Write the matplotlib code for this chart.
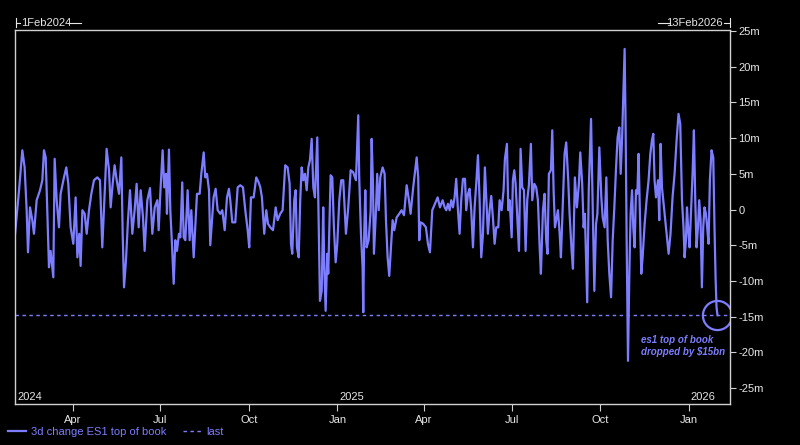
import numpy as np
import pandas as pd
import matplotlib
matplotlib.use("Agg")
import matplotlib.pyplot as plt
import matplotlib.dates as mdates
from matplotlib.lines import Line2D
from matplotlib.transforms import blended_transform_factory

# 3d change in ES1 top of book (millions)
start = "2024-02-01"
end = "2026-02-13"
# days since 1 Feb 2024
day = [
    0, 4.2, 7.6, 10, 12.1, 13.5, 15.6, 18, 19.7, 22.5, 26, 28.4, 30.1, 31.9, 33.6,
    35.3, 37, 39.8, 41.2, 43.3, 45.7, 47.4, 50.9, 53.3, 55.4, 57.8, 60.6, 63, 64.8,
    66.8, 68.2, 70, 72.4, 74.5, 76.9, 79.3, 82.1, 85.5, 88.3, 90.7, 93.2, 95.2, 97.7,
    99.4, 101.5, 103.5, 105.7, 108.1, 110.5, 111.9, 113.3, 115.3, 117.4, 119.5, 121.9,
    124.3, 126.4, 128.5, 130.6, 133, 134.7, 137.5, 140.3, 142.7, 145.2, 147.9,
    149.3, 151, 153.4, 155.1, 156.9, 157.9, 160, 161.4, 163.1, 164.9, 166.6, 168.3,
    170.4, 171.8, 173.8, 175.3, 177, 179.4, 181.5, 183.2, 185.7, 187.3, 189.1, 191.9,
    193.6, 196.1, 197.7, 199.5, 201.6, 202.9, 204.7, 206.4, 208.5, 210.6, 213.3, 215.4,
    217.9, 220.3, 222.3, 223.7, 225.8, 228.9, 231.4, 234.1, 236.9, 239.3, 241.8, 243.4,
    245.2, 248, 250.7, 253.2, 254.9, 256.6, 259, 261.1, 262.9, 265.3, 268.1, 270.9,
    272.9, 275.6, 278.1, 280.8, 283.3, 285.4, 286.8, 288.1, 290.2, 291.6, 293, 294.8,
    296.4, 297.9,
    299.6, 301.3, 303.1, 304.8, 306.5, 308.3, 310, 311.7, 314.1, 315.5, 316.9, 318.7,
    320.3, 321.4, 322.8, 324.5, 325.5, 328, 329.7, 331.4, 333.2, 334.9, 337, 339, 341.1,
    343.9, 346.3, 348.8, 351.5, 354.3, 356.7, 357.7, 359.5, 361.2, 361.9, 362.9, 364,
    365.4, 367.5, 369.6, 370.6, 372, 373, 374.8, 376.4, 377.9, 379.6, 382, 384.1, 385.5,
    387.2, 388.9, 390.7, 392.4, 394.1, 396.6, 399.3, 401.7, 404.2, 407, 409.4, 411.1,
    413.8, 417.4, 419, 420.1, 421.5, 424.2, 427, 429.1, 431.2, 433.6, 436.4, 439.2,
    441.6, 444.4, 446.5,
    448.2, 449.9, 451.7, 453.3, 455.1, 456.8, 458.5, 460.3, 462, 463.7, 465.5, 467.6,
    468.9, 470.7, 472.4, 474.1, 475.9, 477.6, 479.3, 481.1, 482.8, 484.5, 486.3, 488.3,
    489.7, 491.4, 493.2, 494.9, 496.6, 498.4, 500.1, 502.2, 503.6, 505.7, 507.7, 509.1,
    511.2, 512.6, 514, 516.1, 517.4, 518.8, 520.2, 521.6, 523.7, 525.4, 527.1, 528.9,
    530.6, 532.3, 534, 536.1, 537.5, 539.6, 541.6, 543.4, 545.2, 546.5, 548.6, 550.3,
    552, 553.4, 554.8, 556.9, 558.3, 559.7, 561.1, 562.4, 564.2, 566, 567.3, 569.4,
    571.1, 572.8, 574.9, 576.3, 578.4, 579.8, 581.8, 583.9, 586, 587.4, 589.4, 590.9,
    592.2, 593.6, 594.6,
    596.2, 598.6, 600.3, 602, 603.8, 605.2, 607.2, 609.3, 610.7, 612.7, 614.5, 615.9,
    617.6, 619.4, 621.1, 622.8, 624.6, 626.2, 628, 629.4, 630.8, 631.8, 633.5, 634.5,
    635.6, 637, 638.4, 639.7, 641.2, 642.5, 643.9, 645.3, 646.7, 648, 649.5, 650.8,
    652.2, 654.3, 656.3, 658.4, 660.2, 661.9, 663.3, 664.6, 666.1, 668.2, 669.5, 670.9,
    672.3, 674.4, 676.5, 679.2, 681.2, 683.3, 685.4, 687.5, 689.5, 691.3, 693.1, 694.7,
    695.8, 697.2, 698.3, 699.6, 701, 702.7, 704.1, 705.5, 706.9, 708.2, 709.7, 711,
    712.4, 713.8, 715.2, 716.5, 718, 719.3, 720.7, 722.1, 723.8, 725.6, 726.9, 728,
    729, 730,
]
value_m = [
    -3.5, 2.7, 8.3, 5.9, -0.1, -6.0, 0.3, -1.5, -3.4, 1.3, 2.7, 4.1, 8.3, 7.3, -0.6,
    -8.1, -5.8, -9.5, 7.1, 1.3, -2.5, 2.2, 4.5, 5.9, 3.6, -2.5, -4.8, 1.7, -6.7,
    -3.4, -7.9, -0.1, -0.6, -3.4, -0.1, 2.2, 4.1, 4.5, 4.1, -5.3, 2.2, 8.5, 5.5,
    0.3, 3.6, 6.2, 4.1, 2.2, 7.3, -3.4, -10.9, -7.2, -1.5, 2.7, -3.4,
    -0.1, 3.6, -2.5, 2.7, -1.1, -5.8, 1.3, 3.0, -3.4, 0.3, 1.3,
    -2.9, 2.2, 8.3, 3.1, 5.0, -0.6, 8.4, -0.1, -4.8, -10.4, -4.3, -5.8,
    -3.4, -3.9, 3.8, -3.9, -4.3, 2.7, -4.3, -0.1, -6.7, -2.5, 2.2, 2.2,
    5.0, 8.0, 4.5, 5.0, 2.7, -5.0, -1.5, 1.7, 2.9, -0.1, -0.6, -0.1,
    -2.9, 1.7, 2.9, 1.3, -1.8, -1.8, 3.1, 3.4, 3.1, -0.1, -2.9, -5.3,
    1.7, 1.7, 4.5, 3.8, 3.1, 1.7, -3.4, -0.1, -2.0, -2.5, -2.9, 0.3,
    -1.5, -0.6, -0.1, 6.2, 5.9, 3.6, -4.8, -6.2, 1.3, 2.7, -5.3, -6.7,
    1.3, 5.9,
    4.1, 5.0, 2.7, 5.9, 6.9, 9.9, 3.1, 1.7, 10.1, -1.1, -12.8, -11.4,
    0.3, -8.1, -14.2, -6.2, -9.0, 4.8, 4.5, -2.5, -7.4, -4.8, 1.3, 4.1, 4.1,
    -3.4, 0.3, 5.5, 5.2, 4.1, 13.2, 4.5, -3.4, -8.1, -14.4, -3.4, 2.7,
    -5.3, -4.3, -0.1, 9.9, 3.6, -6.2, -1.1, 5.0, -0.1, 4.5, 5.9, 5.0, -1.5,
    -6.7, -9.3, -5.3, -1.5, -2.9, -1.1, -0.6, -0.1, -0.8, 3.4, 1.3, -0.6,
    3.1, 7.3, 4.5, -4.3, -1.8, -2.0, -2.5, -4.8, -6.0, -0.1, 0.8, 1.7,
    0.3, 1.3, 0.3,
    -0.1, 0.8, -0.1, 1.3, 0.3, 1.7, 4.3, -0.1, -3.4, 1.3, 4.3, 4.3,
    -0.1, 2.2, 2.9, -0.1, -5.3, 0.3, 3.6, 7.6, 1.3, -6.7, -3.4, 5.9,
    1.7, -3.4, -0.1, 1.9, -1.1, -4.8, -2.5, -2.5, 1.3, -0.1, 2.7, 7.1,
    9.2, -0.1, 1.3, -3.9, 4.1, 5.5, 3.6, -0.1, -5.8, 8.5, 3.1, 2.7,
    -5.8, 1.3, 3.4, 9.2, 1.3, 3.6, 3.1, 1.3, -5.3, -9.0, -0.1, 2.2,
    -4.3, -6.2, 5.0, 5.5, 11.1, 2.7, -2.5, -1.5, -0.1, -3.4, -6.7, 1.3,
    7.8, 9.4, 4.1, -0.6, -5.8, -8.3, 4.5, 0.3, 3.6, 8.0, 3.6, -2.5,
    -0.6, -7.9, -13.0,
    2.7, 12.7, 0.3, -11.4, -2.0, -0.6, 8.7, 1.7, -1.1, -2.5, 4.5, -4.3,
    -9.0, -12.3, -4.3, 0.3, 5.9, 10.1, 11.5, 5.0, 9.7, 14.3, 22.5, 12.0,
    -4.3, -21.2, -9.0, -0.6, 2.7, -2.5, -5.3, 2.7, 2.2, 7.8, -1.5, -9.0,
    -6.7, -2.0, 1.3, 4.1, 7.8, 9.7, 10.6, 4.1, 1.7, 4.1, -1.5, 9.2,
    3.1, 0.3, -2.5, -6.2, -3.4, 1.7, 5.0, 9.7, 13.4, 12.0, 1.3, -2.5,
    -6.7, -4.3, 0.3, -2.9, -5.3, 0.3, 5.0, 11.1, 1.3, -5.3, -2.5, 1.3,
    -1.5, -10.9, -2.5, 0.3, -0.6, -2.5, -4.8, 4.1, 8.3, 7.3, -2.5, -9.5,
    -13.7, -14.8,
]
y_ticks = [-25, -20, -15, -10, -5, 0, 5, 10, 15, 20, 25]
year_starts = ["2024-02-01", "2025-01-01", "2026-01-01"]
year_labels = ["2024", "2025", "2026"]
series_label = "3d change ES1 top of book"
last_label = "last"
note = "es1 top of book\ndropped by \\$15bn"

assert len(day) == len(value_m)

LINE = "#7D7DFF"
FRAME = "#D0D0D0"
TXT = "#E6E6E6"
plt.rcParams["font.family"] = ["Liberation Sans", "DejaVu Sans"]

dates = pd.Timestamp(start) + pd.to_timedelta(day, unit="D")
last = value_m[-1]

fig = plt.figure(figsize=(8, 4.45), dpi=100, facecolor="black")
ax = fig.add_axes([15 / 800, 1 - 404 / 445, 715 / 800, 374 / 445], facecolor="black")

ax.plot(dates, value_m, color=LINE, lw=1.6, solid_joinstyle="round", label=series_label)
ax.axhline(last, color=LINE, lw=1.0, ls=(0, (2.5, 2.5)), label=last_label)
ax.plot(dates[-1], last, "o", ms=21, mfc="none", mec=LINE, mew=1.6, label="_nolegend_")
ax.annotate(note, xy=(dates[-1], last), xytext=(-55, -14), textcoords="offset points",
            ha="left", va="top", color=LINE, fontsize=7, fontweight="bold",
            fontstyle="italic", linespacing=1.3)

ax.set_xlim(pd.Timestamp(start), pd.Timestamp(end))
ax.set_ylim(-27.25, 25.15)

for s in ax.spines.values():
    s.set_color(FRAME)
    s.set_linewidth(1.0)

ax.yaxis.tick_right()
ax.set_yticks(y_ticks)
ax.set_yticklabels([("%dm" % v) if v != 0 else "0" for v in y_ticks])
ax.tick_params(axis="y", direction="out", length=4, width=0.8, color=FRAME,
               labelcolor=TXT, labelsize=8, pad=2)

ax.xaxis.set_major_locator(mdates.MonthLocator(bymonth=[1, 4, 7, 10]))
ax.xaxis.set_major_formatter(mdates.DateFormatter("%b"))
ax.tick_params(axis="x", direction="out", length=5, width=0.8, color=FRAME,
               labelcolor=TXT, labelsize=8, pad=3)

trans = blended_transform_factory(ax.transData, ax.transAxes)
for d, lab in zip(year_starts, year_labels):
    ax.annotate(lab, xy=(mdates.date2num(pd.Timestamp(d)), 0.02), xycoords=trans,
                xytext=(1.5, 0), textcoords="offset points", ha="left", va="center",
                color=TXT, fontsize=8)

# header range labels with bracket marks
hy = 1 - 22.5 / 445
fig.text(21 / 800, hy, "1Feb2024", color=TXT, fontsize=8, ha="left", va="center")
fig.text(723 / 800, hy, "13Feb2026", color=TXT, fontsize=8, ha="right", va="center")
for xs, ys in [((15.5, 15.5), (18, 27)), ((15.5, 20), (22.5, 22.5)), ((68, 81), (22.5, 22.5)),
               ((658, 670), (22.5, 22.5)), ((724, 730), (22.5, 22.5)), ((730, 730), (18, 27))]:
    fig.add_artist(Line2D([x / 800 for x in xs], [1 - y / 445 for y in ys],
                          color=TXT, lw=0.8))

fig.legend(loc="lower left", bbox_to_anchor=(0.0, 0.0), ncol=2, frameon=False,
           fontsize=8, labelcolor=LINE, handlelength=1.6, handletextpad=0.5,
           columnspacing=1.5, borderaxespad=0.3)

fig.savefig("out.png", dpi=100, facecolor="black")
